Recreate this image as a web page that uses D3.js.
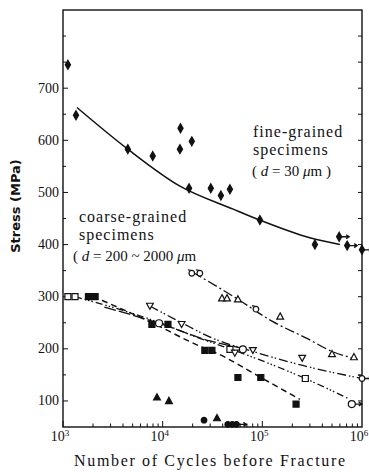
<!DOCTYPE html>
<html>
<head>
<meta charset="utf-8">
<script src="https://cdn.jsdelivr.net/npm/d3@7"></script>
<style>
  body { margin: 0; background: #fff; }
  svg { display: block; }
  .serif { font-family: "Times New Roman", "Liberation Serif", "DejaVu Serif", serif; }
</style>
</head>
<body>
<svg width="369" height="472"></svg>
<script>
// ---- data (N = cycles, S = stress in MPa) ----

// fine-grained specimens, filled diamonds
const fineN = [1120, 1350, 4470, 7950, 15100, 14900, 19600, 18400, 30400, 38400, 47300, 94600, 337000, 590000, 710000, 1000000];
const fineS = [745, 648, 583, 570, 623, 583, 598, 508, 508, 494, 506, 447, 400, 415, 398, 390];
const fineRunout = [false, false, false, false, false, false, false, false, false, false, false, false, false, true, true, true];
const fineCurveN = [1380, 4470, 14900, 51000, 94000, 300000, 600000];
const fineCurveS = [663, 583, 512, 468, 447, 413, 400];

// coarse-grained specimens
const openSqN = [1120, 1320, 47300, 270000];
const openSqS = [300, 300, 199, 143];
const openCircN = [9200, 63800, 790000];
const openCircS = [249, 199, 94];
const openCircRunout = [false, false, true];
const filledSqN = [1800, 2100, 7800, 11300, 26500, 31200, 56900, 96500, 218000];
const filledSqS = [300, 300, 247, 247, 197, 197, 145, 145, 94];
const openTriN = [39400, 44200, 56900, 151000, 500000, 830000];
const openTriS = [297, 297, 295, 262, 190, 184];
const invTriN = [7450, 15500, 53000, 80400, 251000];
const invTriS = [282, 247, 192, 197, 182];
const tailCircN = [19600, 23600, 86300, 1000000];
const tailCircS = [345, 345, 276, 143];
const tailCircRunout = [false, false, false, true];
const filledTriN = [8770, 11560, 35100];
const filledTriS = [107, 100, 67];
const filledCircN = [26000, 45000, 50000, 55000];
const filledCircS = [63, 55, 55, 55];
const filledCircRunout = [false, false, false, true];

// fitted lines for the coarse group
const triLineN = [20000, 37600, 56900, 125000, 280000, 500000, 811000];
const triLineS = [347, 316, 295, 253, 220, 195, 182];
const invTriLineN = [7450, 15500, 32000, 80400, 255000, 1000000];
const invTriLineS = [282, 250, 220, 195, 168, 143];
const sqLineN = [1320, 9400, 23600, 47300, 270000, 720000];
const sqLineS = [300, 250, 220, 200, 143, 105];
const filledSqLineN = [2460, 7800, 23700, 31900, 96500, 238000];
const filledSqLineS = [293, 250, 205, 195, 145, 103];
const circLineN = [2600, 9200, 30000, 63800];
const circLineS = [280, 249, 215, 201];

const yTicks = [100, 200, 300, 400, 500, 600, 700];
const xDecades = [3, 4, 5, 6];

// ---- layout ----
const svg = d3.select("svg");
const mLeft = 63, mRight = 362, mTop = 10, mBottom = 427;

const x = d3.scaleLog().domain([1e3, 1e6]).range([mLeft, mRight]);
const y = d3.scaleLinear().domain([50, 850]).range([mBottom, mTop]);

const zip = (a, b, c) => a.map((v, i) => ({ n: v, s: b[i], r: c ? c[i] : false }));

// frame
svg.append("rect")
  .attr("x", mLeft).attr("y", mTop)
  .attr("width", mRight - mLeft).attr("height", mBottom - mTop)
  .attr("fill", "none").attr("stroke", "#111").attr("stroke-width", 1.4);

// y ticks, left and right, pointing inward
const yMinor = d3.range(100, 850, 50);
yMinor.forEach((v) => {
  const major = yTicks.includes(v);
  svg.append("line")
    .attr("x1", mLeft).attr("x2", mLeft + (major ? 5 : 3))
    .attr("y1", y(v)).attr("y2", y(v))
    .attr("stroke", "#111").attr("stroke-width", 1);
  svg.append("line")
    .attr("x1", mRight).attr("x2", mRight - 4)
    .attr("y1", y(v)).attr("y2", y(v))
    .attr("stroke", "#111").attr("stroke-width", 1);
});

svg.selectAll("text.ylab")
  .data(yTicks)
  .enter()
  .append("text")
  .attr("class", "ylab serif")
  .attr("x", mLeft - 4)
  .attr("y", (d) => y(d) + 4.5)
  .attr("text-anchor", "end")
  .attr("font-size", "14px")
  .attr("fill", "#111")
  .text((d) => d);

// x ticks, log minor ticks pointing up
xDecades.slice(0, 3).forEach((p) => {
  for (let k = 1; k < 10; k++) {
    const v = k * Math.pow(10, p);
    svg.append("line")
      .attr("x1", x(v)).attr("x2", x(v))
      .attr("y1", mBottom).attr("y2", mBottom - (k == 1 ? 6 : 3.5))
      .attr("stroke", "#111").attr("stroke-width", 1);
  }
});

const xl = svg.selectAll("text.xlab")
  .data(xDecades)
  .enter()
  .append("text")
  .attr("class", "xlab serif")
  .attr("x", (d) => x(Math.pow(10, d)) - 3)
  .attr("y", 441)
  .attr("text-anchor", "middle")
  .attr("font-size", "14px")
  .attr("fill", "#111");
xl.append("tspan").text("10");
xl.append("tspan").attr("dy", -5).attr("font-size", "9px").text((d) => d);

// axis titles
svg.append("text")
  .attr("transform", "translate(20,206) rotate(-90)")
  .attr("text-anchor", "middle")
  .attr("font-family", "DejaVu Sans")
  .attr("font-weight", "bold")
  .attr("font-size", "13px")
  .attr("fill", "#111")
  .text("Stress (MPa)");

svg.append("text")
  .attr("class", "serif")
  .attr("x", 74).attr("y", 466)
  .attr("font-size", "16px")
  .attr("textLength", 271)
  .attr("fill", "#111")
  .text("Number of Cycles before Fracture");

// ---- lines ----
const line = d3.line()
  .x((d) => x(d.n))
  .y((d) => y(d.s))
  .curve(d3.curveMonotoneX);

function drawLine(nArr, sArr, dash, width) {
  svg.append("path")
    .attr("d", line(zip(nArr, sArr)))
    .attr("fill", "none")
    .attr("stroke", "#111")
    .attr("stroke-width", width || 1.3)
    .attr("stroke-dasharray", dash);
}

drawLine(fineCurveN, fineCurveS, null, 1.5);
drawLine(triLineN, triLineS, "10,3,2,3");
drawLine(invTriLineN, invTriLineS, "9,3,1.5,2,1.5,3");
drawLine(sqLineN, sqLineS, "7,3,1.5,2,1.5,2,1.5,3");
drawLine(filledSqLineN, filledSqLineS, "6,4", 1.5);
drawLine(circLineN, circLineS, "12,3", 1.3);

// ---- markers ----
const symbols = {
  diamond: "M0,-4.5L2.6,0L0,4.5L-2.6,0Z",
  square: "M-3,-3H3V3H-3Z",
  tri: "M0,-3.6L3.4,2.6H-3.4Z",
  invTri: "M0,3.2L3.4,-2.8H-3.4Z",
};

function drawPoints(nArr, sArr, runArr, shape, filled) {
  const g = svg.append("g");
  const pts = g.selectAll("g")
    .data(zip(nArr, sArr, runArr))
    .enter()
    .append("g")
    .attr("transform", (d) => `translate(${x(d.n)},${y(d.s)})`);

  // run-out arrows
  pts.filter((d) => d.r)
    .append("path")
    .attr("d", "M2,0H10M7,-2L10,0L7,2")
    .attr("fill", "none")
    .attr("stroke", "#111")
    .attr("stroke-width", 1.3);

  if (shape == "circle" || shape == "tailCircle" || shape == "smallCircle") {
    pts.append("circle")
      .attr("r", shape == "circle" ? 3.5 : 2.8)
      .attr("fill", filled ? "#111" : "#fff")
      .attr("stroke", "#111")
      .attr("stroke-width", 1.2);
    if (shape == "tailCircle") {
      pts.append("path")
        .attr("d", "M-1,-2.8L-4,-3.5")
        .attr("stroke", "#111")
        .attr("stroke-width", 1.2);
    }
  } else {
    pts.append("path")
      .attr("d", symbols[shape])
      .attr("fill", filled ? "#111" : "#fff")
      .attr("stroke", "#111")
      .attr("stroke-width", 1.2);
  }
}

drawPoints(fineN, fineS, fineRunout, "diamond", true);
drawPoints(openSqN, openSqS, null, "square", false);
drawPoints(openCircN, openCircS, openCircRunout, "circle", false);
drawPoints(filledSqN, filledSqS, null, "square", true);
drawPoints(openTriN, openTriS, null, "tri", false);
drawPoints(invTriN, invTriS, null, "invTri", false);
drawPoints(tailCircN, tailCircS, tailCircRunout, "tailCircle", false);
drawPoints(filledTriN, filledTriS, null, "tri", true);
drawPoints(filledCircN, filledCircS, filledCircRunout, "smallCircle", true);

// ---- annotations ----
function label(lines, x0, y0, dy) {
  lines.forEach((t, i) => {
    svg.append("text")
      .attr("class", "serif")
      .attr("x", x0)
      .attr("y", y0 + i * dy)
      .attr("font-size", "16px")
      .attr("letter-spacing", "1px")
      .attr("fill", "#111")
      .text(t);
  });
}

label(["fine-grained", "specimens"], 253, 137, 18);
svg.append("text")
  .attr("class", "serif")
  .attr("x", 252).attr("y", 176)
  .attr("font-size", "15px")
  .attr("fill", "#111")
  .html('( <tspan font-style="italic">d</tspan> = 30 <tspan font-style="italic">μ</tspan>m )');

label(["coarse-grained", "specimens"], 79, 222, 18);
svg.append("text")
  .attr("class", "serif")
  .attr("x", 73).attr("y", 261)
  .attr("font-size", "15px")
  .attr("fill", "#111")
  .html('( <tspan font-style="italic">d</tspan> = 200 ~ 2000 <tspan font-style="italic">μ</tspan>m');
</script>
</body>
</html>
